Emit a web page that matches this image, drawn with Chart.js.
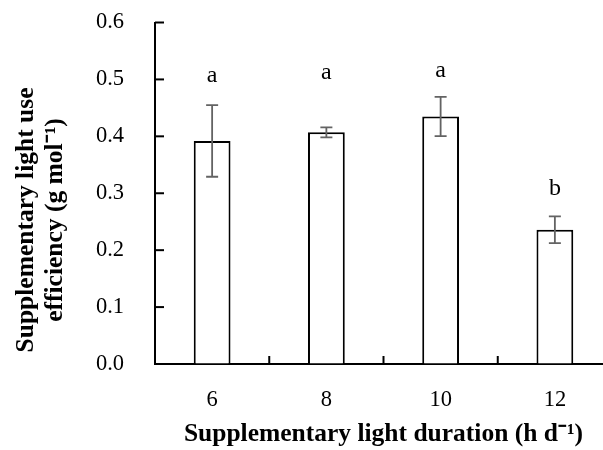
<!DOCTYPE html>
<html>
<head>
<meta charset="utf-8">
<script src="https://cdn.jsdelivr.net/npm/chart.js@4"></script>
<style>
  html, body { margin: 0; padding: 0; background: #fff; overflow: hidden; }
  #wrap { width: 620px; height: 450px; position: relative; }
</style>
</head>
<body>
<div id="wrap"><canvas id="c"></canvas></div>
<script>
// ---- data ----
const categories = ['6', '8', '10', '12'];
const efficiency = [0.392, 0.407, 0.435, 0.236];
const errors = [0.063, 0.0087, 0.0345, 0.0235];
const letters = ['a', 'a', 'a', 'b'];
const letterY = [0.496, 0.500, 0.504, 0.297];
const yTicks = [0, 0.1, 0.2, 0.3, 0.4, 0.5, 0.6];
const xTitle = 'Supplementary light duration (h d\u207B\u00B9)';
const yTitle = ['Supplementary light use', 'efficiency (g mol\u207B\u00B9)'];

const FONT = "'Liberation Serif', 'Times New Roman', serif";

const extras = {
  id: 'extras',
  afterDatasetsDraw(chart) {
    const ctx = chart.ctx;
    const x = chart.scales.x, y = chart.scales.y;
    const meta = chart.getDatasetMeta(0);
    ctx.save();
    // error bars
    ctx.strokeStyle = '#636363';
    ctx.lineWidth = 1.8;
    meta.data.forEach((bar, i) => {
      const cx = bar.x;
      const top = y.getPixelForValue(efficiency[i] + errors[i]);
      const bot = y.getPixelForValue(efficiency[i] - errors[i]);
      ctx.beginPath();
      ctx.moveTo(cx, top); ctx.lineTo(cx, bot);
      ctx.moveTo(cx - 6, top); ctx.lineTo(cx + 6, top);
      ctx.moveTo(cx - 6, bot); ctx.lineTo(cx + 6, bot);
      ctx.stroke();
    });
    // significance letters
    ctx.fillStyle = '#000';
    ctx.font = '24px ' + FONT;
    ctx.textAlign = 'center';
    ctx.textBaseline = 'alphabetic';
    meta.data.forEach((bar, i) => {
      ctx.fillText(letters[i], bar.x, y.getPixelForValue(letterY[i]));
    });
    // inside ticks on y axis
    ctx.strokeStyle = '#000';
    ctx.lineWidth = 2;
    const left = chart.chartArea.left;
    yTicks.slice(1).forEach(v => {
      const py = y.getPixelForValue(v);
      ctx.beginPath(); ctx.moveTo(left, py); ctx.lineTo(left + 9, py); ctx.stroke();
    });
    // inside ticks on x axis between categories
    const bottom = chart.chartArea.bottom;
    for (let i = 0; i < categories.length - 1; i++) {
      const px = (x.getPixelForTick(i) + x.getPixelForTick(i + 1)) / 2;
      ctx.beginPath(); ctx.moveTo(px, bottom); ctx.lineTo(px, bottom - 8); ctx.stroke();
    }
    // y axis title (two lines)
    ctx.fillStyle = '#000';
    ctx.font = 'bold 25.5px ' + FONT;
    ctx.textAlign = 'center';
    ctx.textBaseline = 'alphabetic';
    const cy = 220;
    [33, 62].forEach((bx, k) => {
      ctx.save();
      ctx.translate(bx, cy);
      ctx.rotate(-Math.PI / 2);
      ctx.fillText(yTitle[k], 0, 0);
      ctx.restore();
    });
    ctx.restore();
  }
};

new Chart(document.getElementById('c'), {
  type: 'bar',
  data: {
    labels: categories,
    datasets: [{
      data: efficiency,
      backgroundColor: '#ffffff',
      borderColor: '#000000',
      borderWidth: 2,
      categoryPercentage: 1,
      barPercentage: 0.322
    }]
  },
  options: {
    responsive: true,
    maintainAspectRatio: false,
    animation: false,
    events: [],
    layout: { padding: { top: 22.5, right: 8, left: 0, bottom: 0 } },
    plugins: { legend: { display: false }, tooltip: { enabled: false } },
    scales: {
      x: {
        offset: true,
        grid: { display: false, drawTicks: false },
        border: { display: true, color: '#000', width: 2 },
        ticks: { color: '#000', font: { family: FONT, size: 22.5 }, padding: 23, maxRotation: 0 },
        title: { display: true, text: xTitle, color: '#000', font: { family: FONT, size: 25.5, weight: 'bold' }, padding: { top: 0, bottom: 0 } },
        afterFit(s) { s.height = 86; }
      },
      y: {
        min: 0, max: 0.6,
        afterBuildTicks(s) { s.ticks = yTicks.map(v => ({ value: v })); },
        grid: { display: true, drawOnChartArea: false, drawTicks: true, tickLength: 28, color: 'rgba(0,0,0,0)' },
        border: { display: true, color: '#000', width: 2 },
        ticks: { color: '#000', font: { family: FONT, size: 22.5 }, padding: 3, callback: v => Number(v).toFixed(1) },
        afterFit(s) { s.width = 155; }
      }
    }
  },
  plugins: [extras]
});
</script>
</body>
</html>
